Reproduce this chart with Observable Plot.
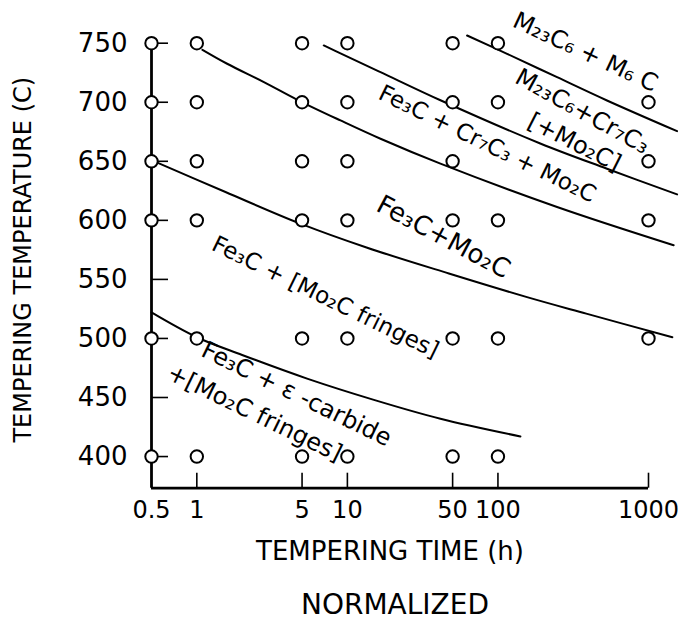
<!DOCTYPE html>
<html><head><meta charset="utf-8">
<script src="https://cdn.jsdelivr.net/npm/d3@7"></script>
<script src="https://cdn.jsdelivr.net/npm/@observablehq/plot@0.6"></script>
<style>
body{margin:0;background:#fff;}
#chart{width:683px;}
.cap{width:683px;height:59px;font-family:"DejaVu Sans",sans-serif;font-size:28px;line-height:50px;text-align:center;color:#000;padding-left:107px;box-sizing:border-box;}
</style></head><body>
<div id="chart"></div>
<script>
// ---- axes ----
const timeTicks = [0.5, 1, 5, 10, 50, 100, 1000];
const tempTicks = [400, 450, 500, 550, 600, 650, 700, 750];
const timeDomain = [0.5, 1000];
const tempDomain = [373.2, 750];

// ---- sampled (time, temperature) conditions : open circles ----
const times750 = [0.5, 1, 5, 10, 50, 100];
const times700 = [0.5, 1, 5, 10, 50, 100, 1000];
const times650 = [0.5, 1, 5, 10, 50, 1000];
const times600 = [0.5, 1, 5, 10, 50, 100, 1000];
const times500 = [0.5, 1, 5, 10, 50, 100, 1000];
const times400 = [0.5, 1, 5, 10, 50, 100];

// ---- phase boundaries [time h, temperature C] ----
const boundaryEpsilon = [[0.5,522],[1,501],[2,486],[5.4,466],[15,448],[41.5,432],[141,417]];
const boundaryFringes = [[0.5,651],[1.55,624],[4.92,597],[13.4,577],[47.2,555],[156,535],[386,521],[1440,501]];
const boundaryMo2C    = [[1.09,744.4],[1.59,732.6],[2.79,717],[4.64,702.1],[9,684.6],[16.6,669.1],[41.5,648],[247,611.3],[1469,578.9]];
const boundaryCr7C3   = [[6.97,748.1],[9,741.4],[16.6,725.5],[41.5,701.7],[191,665.1],[530,643.7],[1548,622]];
const boundaryM23C6   = [[62.4,756.5],[115,741],[247,721.2],[530,701.5],[1548,675.5]];

// ---- region labels ----
const labelText  = ["M₂₃C₆ + M₆ C", "M₂₃C₆+Cr₇C₃", "[+Mo₂C]", "Fe₃C + Cr₇C₃ + Mo₂C", "Fe₃C+Mo₂C", "Fe₃C + [Mo₂C fringes]", "Fe₃C + ε -carbide", "+[Mo₂C fringes]"];
const labelTime  = [381, 364, 322, 85, 43.4, 7.15, 4.59, 2.42];
const labelTemp  = [742.4, 692.2, 666, 664.7, 585.9, 534.9, 452.8, 436.7];
const labelAngle = [25, 29, 27, 26, 28, 26, 26, 26];
const labelSize  = [24, 24, 24, 23, 26, 23, 24, 24];

const xTitle = "TEMPERING TIME (h)";
const yTitle = "TEMPERING TEMPERATURE (C)";
const caption = "NORMALIZED";

const W = 683, H = 580, mL = 151, mR = 35, mT = 42.7, mB = 92.3;
const frameW = W - mL - mR, frameH = H - mT - mB;

const samples = [
  ...times750.map(t => ({t, T: 750})),
  ...times700.map(t => ({t, T: 700})),
  ...times650.map(t => ({t, T: 650})),
  ...times600.map(t => ({t, T: 600})),
  ...times500.map(t => ({t, T: 500})),
  ...times400.map(t => ({t, T: 400}))
];
const labels = labelText.map((s, i) => ({s, t: labelTime[i], T: labelTemp[i], a: labelAngle[i], f: labelSize[i]}));
const boundaries = [boundaryEpsilon, boundaryFringes, boundaryMo2C, boundaryCr7C3, boundaryM23C6];

const lineMarks = boundaries.map(b => Plot.line(b, {x: d => d[0], y: d => d[1], curve: "catmull-rom", stroke: "#000", strokeWidth: 2}));

const plot = Plot.plot({
  width: W, height: H,
  marginLeft: mL, marginRight: mR, marginTop: mT, marginBottom: mB,
  x: {type: "log", domain: timeDomain, axis: null},
  y: {domain: tempDomain, axis: null},
  style: {fontFamily: "DejaVu Sans, sans-serif", color: "#000", background: "#fff", overflow: "visible"},
  marks: [
    Plot.text(timeTicks, {x: d => d, text: d => String(d), frameAnchor: "bottom", dy: 22, fontSize: 24, fill: "#000", textAnchor: "middle", lineAnchor: "middle"}),
    Plot.text(tempTicks, {y: d => d, text: d => String(d), frameAnchor: "left", dx: -24, fontSize: 26, fill: "#000", textAnchor: "end", lineAnchor: "middle"}),
    Plot.tickX(timeTicks.slice(1), {x: d => d, insetTop: frameH - 15, stroke: "#000", strokeWidth: 1.6}),
    Plot.tickY(tempTicks, {y: d => d, insetRight: frameW - 17, stroke: "#000", strokeWidth: 1.6}),
    Plot.ruleY([tempDomain[0]], {x1: timeDomain[0], x2: timeDomain[1], stroke: "#000", strokeWidth: 2.8}),
    Plot.ruleX([timeDomain[0]], {y1: tempDomain[0], y2: tempDomain[1], stroke: "#000", strokeWidth: 2.8}),
    ...lineMarks,
    Plot.dot(samples, {x: "t", y: "T", r: 6.2, fill: "#fff", stroke: "#000", strokeWidth: 2}),
    Plot.text(labels, {x: "t", y: "T", text: "s", rotate: "a", fontSize: "f", fill: "#000", textAnchor: "middle", lineAnchor: "middle"}),
    Plot.text([xTitle], {frameAnchor: "bottom", dx: -10, dy: 63, fontSize: 26, fill: "#000", textAnchor: "middle", lineAnchor: "middle"}),
    Plot.text([yTitle], {frameAnchor: "left", rotate: -90, dx: -128, dy: -6, fontSize: 24, fill: "#000", textAnchor: "middle", lineAnchor: "middle"})
  ]
});
const el = document.getElementById("chart");
el.appendChild(plot);
const cap = document.createElement("div");
cap.className = "cap";
cap.textContent = caption;
el.appendChild(cap);
</script>
</body></html>
